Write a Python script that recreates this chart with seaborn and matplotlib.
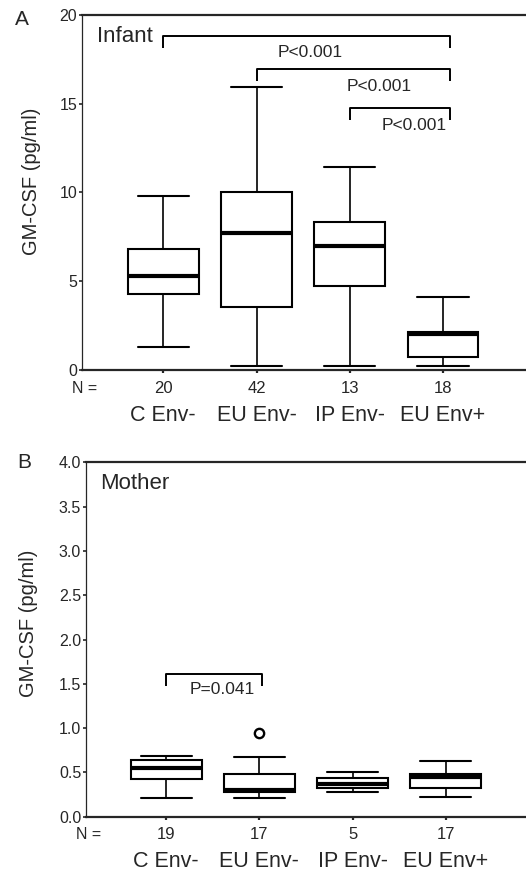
import pandas as pd
import numpy as np
import seaborn as sns
import matplotlib.pyplot as plt
from matplotlib import transforms

# Groups (same order in both panels)
groups = ["C Env-", "EU Env-", "IP Env-", "EU Env+"]

# Panel A - Infant, five-number summaries
inf_min = [1.30, 0.21, 0.21, 0.21]
inf_q1 = [4.30, 3.55, 4.75, 0.73]
inf_med = [5.28, 7.72, 7.00, 2.02]
inf_q3 = [6.82, 10.0, 8.36, 2.12]
inf_max = [9.78, 15.95, 11.45, 4.12]
inf_n = [20, 42, 13, 18]

# Panel B - Mother
mot_min = [0.21, 0.21, 0.28, 0.225]
mot_q1 = [0.43, 0.275, 0.32, 0.32]
mot_med = [0.555, 0.30, 0.365, 0.45]
mot_q3 = [0.64, 0.485, 0.437, 0.485]
mot_max = [0.69, 0.67, 0.50, 0.63]
mot_n = [19, 17, 5, 17]
mot_out_group = ["EU Env-"]
mot_out_val = [0.94]

# significance brackets: (group a, group b, bracket top, drop, text x, text y, text)
inf_brackets = [
    ("C Env-", "EU Env+", 18.83, 0.67, 1.58, 17.9, "P<0.001"),
    ("EU Env-", "EU Env+", 16.94, 0.64, 2.32, 15.96, "P<0.001"),
    ("IP Env-", "EU Env+", 14.76, 0.68, 2.69, 13.8, "P<0.001"),
]
mot_brackets = [
    ("C Env-", "EU Env-", 1.61, 0.135, 0.60, 1.44, "P=0.041"),
]


def five_num_frame(mins, q1, med, q3, maxs):
    rows = []
    for g, a, b, c, d, e in zip(groups, mins, q1, med, q3, maxs):
        for v in (a, b, c, d, e):
            rows.append({"group": g, "value": v})
    return pd.DataFrame(rows)


sns.set_style("ticks")
plt.rcParams["font.family"] = ["Liberation Sans", "DejaVu Sans"]

fig = plt.figure(figsize=(5.26, 8.72), dpi=100)
axA = fig.add_axes([0.156, 0.5757, 0.844, 0.4071])
axB = fig.add_axes([0.1635, 0.0634, 0.8365, 0.4064])


def draw_panel(ax, df, ns, brackets, ylim, yticks, yfmt, title, xlim):
    sns.boxplot(data=df, x="group", y="value", order=groups, ax=ax,
                whis=(0, 100), width=0.76, color="white", linecolor="black",
                linewidth=1.5, showfliers=False, capwidths=0.55,
                medianprops=dict(linewidth=3.0),
                whiskerprops=dict(linewidth=1.2))
    ax.set_xlim(*xlim)
    ax.set_ylim(*ylim)
    ax.set_yticks(yticks)
    ax.set_yticklabels([yfmt.format(t) for t in yticks], fontsize=11.5)
    ax.set_xticks(range(len(groups)))
    ax.set_xticklabels([""] * len(groups))
    ax.tick_params(axis="y", length=2.5, width=1.2, pad=1)
    ax.tick_params(axis="x", length=2.5, width=1.6)
    ax.set_xlabel("")
    ax.set_ylabel("GM-CSF (pg/ml)", fontsize=14.5)
    ax.spines["right"].set_visible(False)
    ax.spines["top"].set_linewidth(1.6)
    ax.spines["bottom"].set_linewidth(1.6)
    ax.spines["left"].set_linewidth(0.9)

    trans = transforms.blended_transform_factory(ax.transData, ax.transAxes)
    for i, (g, n) in enumerate(zip(groups, ns)):
        ax.text(i, -0.051, str(n), transform=trans, ha="center", va="center",
                fontsize=12)
        ax.text(i, -0.127, g, transform=trans, ha="center", va="center",
                fontsize=15.5)
    ax.text(0.006, -0.051, "N =", transform=ax.transAxes, ha="center",
            va="center", fontsize=11.5)

    for a, b, top, drop, tx, ty, lab in brackets:
        xa = groups.index(a)
        xb = groups.index(b) + (0.08 if b == "EU Env+" else 0.03)
        ax.plot([xa, xa, xb, xb], [top - drop, top, top, top - drop],
                color="black", lw=1.4, solid_capstyle="butt")
        ax.text(tx, ty, lab, ha="center", va="center", fontsize=12.5)

    ax.text(-0.71, ylim[1] * 0.94, title, ha="left", va="center", fontsize=16)


dfA = five_num_frame(inf_min, inf_q1, inf_med, inf_q3, inf_max)
dfB = five_num_frame(mot_min, mot_q1, mot_med, mot_q3, mot_max)

draw_panel(axA, dfA, inf_n, inf_brackets, (0, 20), [0, 5, 10, 15, 20],
           "{:g}", "Infant", (-0.871, 3.89))
draw_panel(axB, dfB, mot_n, mot_brackets, (0, 4.0),
           [0, 0.5, 1.0, 1.5, 2.0, 2.5, 3.0, 3.5, 4.0], "{:.1f}", "Mother",
           (-0.86, 3.86))

# outlier in the mother panel
outx = [groups.index(g) for g in mot_out_group]
axB.scatter(outx, mot_out_val, s=45, facecolors="white", edgecolors="black",
            linewidths=1.7, zorder=5)

axA.yaxis.set_label_coords(-0.092, 0.531)
axB.yaxis.set_label_coords(-0.109, 0.547)

fig.text(0.042, 0.978, "A", ha="center", va="center", fontsize=15)
fig.text(0.046, 0.47, "B", ha="center", va="center", fontsize=15)

fig.savefig("out.png", dpi=100)
